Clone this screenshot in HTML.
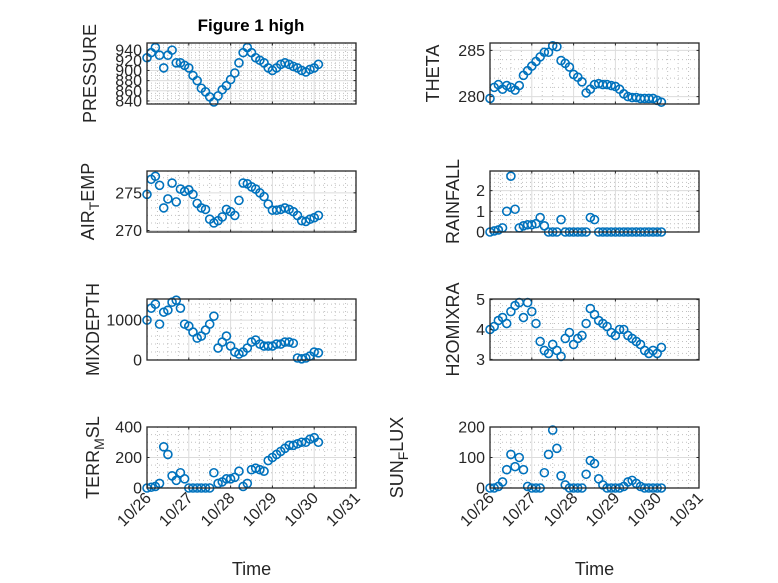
<!DOCTYPE html>
<html><head><meta charset="utf-8"><style>
html,body{margin:0;padding:0;background:#fff;}
svg{display:block;font-family:"Liberation Sans","DejaVu Sans",sans-serif;}
</style></head><body>
<svg id="fig" width="778" height="583" viewBox="0 0 778 583">
<rect width="778" height="583" fill="#fff"/>
<text x="251" y="31" text-anchor="middle" font-size="17" font-weight="bold" fill="#000">Figure 1 high</text>
</svg>
<script>
const xTickLabels = ["10/26","10/27","10/28","10/29","10/30","10/31"];
const timeStep = 0.1;
const pressure = [925,935,945,930,905,930,940,915,915,910,905,890,880,865,858,848,838,850,862,870,882,895,915,935,945,935,925,920,915,905,900,905,912,915,912,908,905,900,897,902,905,912];
const theta = [279.8,281.0,281.3,280.8,281.2,281.0,280.7,281.2,282.3,282.8,283.3,283.8,284.3,284.8,284.8,285.5,285.4,283.9,283.6,283.2,282.4,282.1,281.6,280.4,280.8,281.3,281.4,281.3,281.3,281.2,281.1,280.8,280.3,280.0,279.9,279.9,279.8,279.8,279.8,279.8,279.6,279.4];
const airTemp = [274.8,276.8,277.2,276.0,273.0,274.2,276.3,273.8,275.5,275.2,275.4,274.8,273.6,273.0,272.8,271.5,271.0,271.3,271.8,272.8,272.5,272.0,274.0,276.3,276.2,275.8,275.5,275.0,274.5,273.5,272.7,272.7,272.8,273.0,272.8,272.5,272.0,271.3,271.2,271.5,271.7,272.0];
const rainfall = [0,0.05,0.1,0.2,1.0,2.7,1.1,0.2,0.3,0.35,0.35,0.4,0.7,0.3,0,0,0,0.6,0,0,0,0,0,0,0.7,0.6,0,0,0,0,0,0,0,0,0,0,0,0,0,0,0,0];
const mixDepth = [1000,1300,1400,900,1200,1250,1450,1500,1300,900,850,700,550,600,750,900,1100,300,450,600,350,200,150,200,300,450,500,400,350,350,350,400,400,450,450,420,50,30,50,100,200,180];
const h2oMix = [4.0,4.1,4.3,4.4,4.2,4.6,4.8,4.9,4.4,4.9,4.6,4.2,3.6,3.3,3.2,3.5,3.3,3.1,3.7,3.9,3.5,3.7,3.8,4.2,4.7,4.5,4.3,4.2,4.1,3.9,3.8,4.0,4.0,3.8,3.7,3.6,3.5,3.3,3.2,3.3,3.2,3.4];
const terrMsl = [0,5,10,30,270,220,80,50,100,60,0,0,0,0,0,0,100,30,40,60,60,70,110,10,30,120,130,120,110,180,200,220,240,260,280,280,290,300,300,320,330,300];
const sunFlux = [0,0,5,20,60,110,70,100,60,5,0,0,0,50,110,190,130,40,10,0,0,0,0,45,90,80,30,10,0,0,0,0,5,20,25,15,5,0,0,0,0,0];

const pressureTicks = [840,860,880,900,920,940];
const thetaTicks = [280,285];
const airTicks = [270,275];
const rainTicks = [0,1,2];
const mixTicks = [0,1000];
const h2oTicks = [3,4,5];
const terrTicks = [0,200,400];
const sunTicks = [0,100,200];

const NS="http://www.w3.org/2000/svg";
const svg=document.getElementById('fig');
function mk(tag,attrs,parent){const e=document.createElementNS(NS,tag);for(const k in attrs)e.setAttribute(k,attrs[k]);(parent||svg).appendChild(e);return e;}

const panels=[
 {key:"pressure",data:pressure,ticks:pressureTicks,ylim:[834,954],x:147,y:43,label:["PRESSURE"],lx:90,minor:4},
 {key:"theta",data:theta,ticks:thetaTicks,ylim:[279.2,285.8],x:490,y:43,label:["THETA"],lx:433,minor:5},
 {key:"air-temp",data:airTemp,ticks:airTicks,ylim:[269.8,277.9],x:147,y:171,label:["AIR","T","EMP"],lx:88,minor:5},
 {key:"rainfall",data:rainfall,ticks:rainTicks,ylim:[0,2.95],x:490,y:171,label:["RAINFALL"],lx:453,minor:5},
 {key:"mixdepth",data:mixDepth,ticks:mixTicks,ylim:[0,1530],x:147,y:299,label:["MIXDEPTH"],lx:93,minor:5},
 {key:"h2omixra",data:h2oMix,ticks:h2oTicks,ylim:[2.98,5.02],x:490,y:299,label:["H2OMIXRA"],lx:453,minor:5},
 {key:"terr-msl",data:terrMsl,ticks:terrTicks,ylim:[0,400],x:147,y:427,label:["TERR","M","SL"],lx:93,minor:4},
 {key:"sun-flux",data:sunFlux,ticks:sunTicks,ylim:[0,200],x:490,y:427,label:["SUN","F","LUX"],lx:397,minor:4}
];
const W=209,H=61,XMAX=5;

panels.forEach((p,pi)=>{
 const g=mk('g',{});
 
 
 const xs=t=>p.x+t/XMAX*W;
 const ys=v=>p.y+H-(v-p.ylim[0])/(p.ylim[1]-p.ylim[0])*H;
 for(let d=0;d<XMAX;d++)for(let k=1;k<4;k++){const X=xs(d+k/4);mk('line',{x1:X,x2:X,y1:p.y,y2:p.y+H,stroke:'#c0c0c0','stroke-width':1,'stroke-dasharray':'1 3'},g);}
 for(let i=0;i<p.ticks.length;i++){
   const step=p.ticks.length>1?(p.ticks[1]-p.ticks[0]):1;
   for(let k=-p.minor;k<p.minor;k++){const v=p.ticks[i]+k*step/p.minor; if(k===0)continue; if(v<=p.ylim[0]||v>=p.ylim[1])continue; if(i>0&&k<0)continue;const Y=ys(v);mk('line',{x1:p.x,x2:p.x+W,y1:Y,y2:Y,stroke:'#c0c0c0','stroke-width':1,'stroke-dasharray':'1 3'},g);}
 }
 xTickLabels.forEach((l,i)=>{const X=xs(i);mk('line',{x1:X,x2:X,y1:p.y,y2:p.y+H,stroke:'#dcdcdc','stroke-width':1},g);});
 p.ticks.forEach(v=>{const Y=ys(v);mk('line',{x1:p.x,x2:p.x+W,y1:Y,y2:Y,stroke:'#dcdcdc','stroke-width':1},g);});
 p.data.forEach((v,i)=>{
   const c=mk('circle',{cx:xs(i*timeStep),cy:ys(v),r:4,fill:'none',stroke:'#0072BD','stroke-width':1.6},g);
   
   
 });
 mk('rect',{x:p.x,y:p.y,width:W,height:H,fill:'none',stroke:'#262626','stroke-width':1.3},g);
 xTickLabels.forEach((l,i)=>{const X=xs(i);mk('line',{x1:X,x2:X,y1:p.y+H,y2:p.y+H-2.5,stroke:'#262626'},g);mk('line',{x1:X,x2:X,y1:p.y,y2:p.y+2.5,stroke:'#262626'},g);});
 p.ticks.forEach(v=>{const Y=ys(v);mk('line',{x1:p.x,x2:p.x+2.5,y1:Y,y2:Y,stroke:'#262626'},g);mk('line',{x1:p.x+W,x2:p.x+W-2.5,y1:Y,y2:Y,stroke:'#262626'},g);
   const t=mk('text',{x:p.x-5,y:ys(v)+5.5,'text-anchor':'end','font-size':16,fill:'#262626'},g);t.textContent=String(v);
   
   });
 const cy=p.y+H/2;
 const yl=mk('text',{x:0,y:0,'text-anchor':'middle','font-size':18,fill:'#262626',transform:`translate(${p.lx+6},${cy}) rotate(-90)`},g);
 
 
 if(p.label.length===1){yl.textContent=p.label[0];}
 else{const a=mk('tspan',{},yl);a.textContent=p.label[0];const b=mk('tspan',{dy:5,'font-size':14},yl);b.textContent=p.label[1];const c=mk('tspan',{dy:-5},yl);c.textContent=p.label[2];}
 if(pi>=6){
   xTickLabels.forEach((l,i)=>{const X=xs(i);const t=mk('text',{x:0,y:0,'text-anchor':'end','font-size':16,fill:'#262626',transform:`translate(${X+5},${p.y+H+11}) rotate(-45)`},g);t.textContent=l;
     
     });
   const xl=mk('text',{x:p.x+W/2,y:575,'text-anchor':'middle','font-size':18,fill:'#262626'},g);xl.textContent="Time";
   
   
 }
});
</script>
</body></html>
